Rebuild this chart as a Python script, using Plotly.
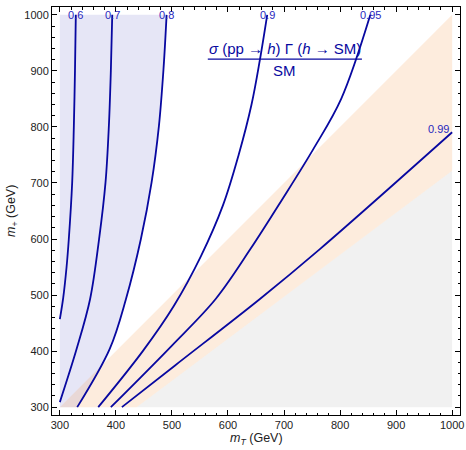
import plotly.graph_objects as go

# ---- data (m_T, m_+ in GeV) ----
c06_x = [300, 306, 312, 316, 322, 325, 327, 328.5]
c06_y = [457, 495, 550, 600, 701, 802, 900, 1000]
c07_x = [300, 330, 354, 370, 381.5, 387.5, 391, 393.5]
c07_y = [309, 404, 493, 600, 701, 802, 900, 1000]
c08_x = [331, 389, 418, 444.6, 463.7, 476.8, 485, 490.5]
c08_y = [300, 404, 493, 600, 701, 802, 904, 1000]
c09_x = [368.5, 448, 503, 552, 591, 619, 642, 657, 670]
c09_y = [300, 400, 480, 570, 660, 750, 840, 920, 1000]
c095_x = [391, 500, 578, 640, 697, 752, 802, 854]
c095_y = [300, 410, 493, 582, 671, 760, 850, 1000]
c099_x = [410.7, 505, 657, 764, 1000]
c099_y = [300, 374, 493, 582, 790.5]

contour_levels = ["0.6", "0.7", "0.8", "0.9", "0.95", "0.99"]
contours = [(c06_x, c06_y), (c07_x, c07_y), (c08_x, c08_y),
            (c09_x, c09_y), (c095_x, c095_y), (c099_x, c099_y)]

# region boundaries
blue_left_x = [300, 300]
blue_left_y = [300, 1000]
band_upper_x = [300, 1000]
band_upper_y = [300, 1000]
band_lower_x = [437, 1000]
band_lower_y = [300, 722]
gray_corner = (1000, 300)

xticks = [300, 400, 500, 600, 700, 800, 900, 1000]
yticks = [300, 400, 500, 600, 700, 800, 900, 1000]

LINE = "rgb(8,8,160)"
LABEL = "rgb(40,40,190)"
FONT = "Liberation Sans, Arial, sans-serif"

fig = go.Figure()

# gray excluded region
fig.add_trace(go.Scatter(
    x=band_lower_x + [gray_corner[0]], y=band_lower_y + [gray_corner[1]],
    fill="toself", fillcolor="rgb(241,241,241)", mode="lines",
    line=dict(width=0), hoverinfo="skip"))

# blue region: left of the 0.8 contour
fig.add_trace(go.Scatter(x=blue_left_x, y=blue_left_y, mode="lines",
                         line=dict(width=0), hoverinfo="skip"))
fig.add_trace(go.Scatter(x=c08_x, y=c08_y, mode="lines", fill="tonextx",
                         fillcolor="rgb(230,230,246)",
                         line=dict(width=0, shape="spline"), hoverinfo="skip"))

# orange band
fig.add_trace(go.Scatter(
    x=band_upper_x + band_lower_x[::-1], y=band_upper_y + band_lower_y[::-1],
    fill="toself", fillcolor="rgba(248,170,100,0.22)", mode="lines",
    line=dict(width=0), hoverinfo="skip"))

# contour lines
for (cx, cy) in contours:
    fig.add_trace(go.Scatter(x=cx, y=cy, mode="lines",
                             line=dict(color=LINE, width=1.8, shape="spline"),
                             hoverinfo="skip"))

annotations = []
for lev, (cx, cy) in zip(contour_levels[:-1], contours[:-1]):
    annotations.append(dict(x=cx[-1], y=cy[-1], text=lev, showarrow=False,
                            font=dict(size=11, color=LABEL, family=FONT),
                            xanchor="center", yanchor="middle"))
annotations.append(dict(x=975, y=796, text=contour_levels[-1], showarrow=False,
                        font=dict(size=11, color=LABEL, family=FONT),
                        xanchor="center", yanchor="middle"))

# fraction label
annotations.append(dict(x=701, y=940,
                        text="<i>σ</i> (pp → <i>h</i>) Γ (<i>h</i> → SM)",
                        showarrow=False, font=dict(size=15, color=LINE, family=FONT),
                        xanchor="center", yanchor="middle"))
annotations.append(dict(x=701, y=900, text="SM", showarrow=False,
                        font=dict(size=15, color=LINE, family=FONT),
                        xanchor="center", yanchor="middle"))

# axis titles
annotations.append(dict(xref="paper", yref="paper", x=0.5, y=-0.058,
                        text="<i>m</i><sub><i>T</i></sub> (GeV)", showarrow=False,
                        font=dict(size=12.5, color="#222", family=FONT),
                        xanchor="center", yanchor="middle"))
annotations.append(dict(xref="paper", yref="paper", x=-0.098, y=0.5,
                        text="<i>m</i><sub>+</sub> (GeV)", showarrow=False,
                        textangle=-90,
                        font=dict(size=12.5, color="#222", family=FONT),
                        xanchor="center", yanchor="middle"))

shapes = [dict(type="line", x0=564, x1=839, y0=921, y1=921,
               line=dict(color=LINE, width=1.4))]

axis_common = dict(
    showgrid=False, zeroline=False, showline=True, linecolor="black",
    linewidth=1, mirror="ticks", ticks="inside", ticklen=5, tickcolor="black",
    tickfont=dict(size=11, color="#222", family=FONT),
    minor=dict(ticks="inside", ticklen=2.5, dtick=20, tickcolor="black", showgrid=False),
)

fig.update_layout(
    width=466, height=450,
    margin=dict(l=52, r=6, t=7, b=35, autoexpand=False),
    plot_bgcolor="white", paper_bgcolor="white",
    showlegend=False,
    xaxis=dict(range=[286, 1014], tickvals=xticks, **axis_common),
    yaxis=dict(range=[286, 1014], tickvals=yticks, **axis_common),
    annotations=annotations, shapes=shapes,
)

fig.write_html("out.html")
